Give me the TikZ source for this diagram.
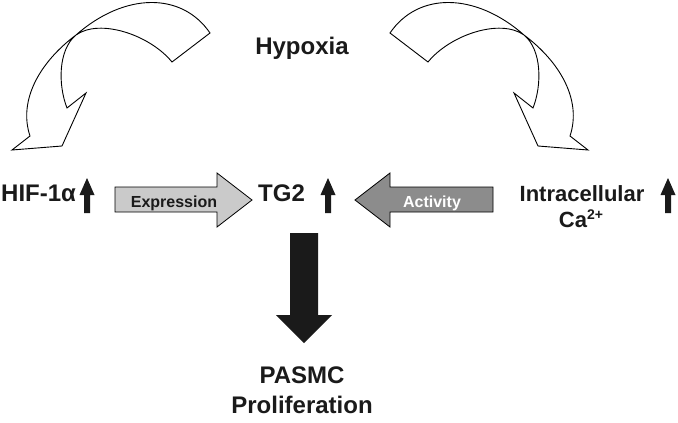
\documentclass[tikz,border=0pt]{standalone}
\usepackage{fontspec}
\setmainfont{Liberation Sans}
\definecolor{txt}{HTML}{1A1A1A}
\definecolor{expfill}{HTML}{CACACA}
\definecolor{actfill}{HTML}{8C8C8C}
\begin{document}
\begin{tikzpicture}[x=1pt,y=-1pt,
  lbl/.style={font=\fontsize{24}{26}\selectfont\bfseries, text=txt, inner sep=0pt},
  lblsmall/.style={font=\fontsize{22}{24}\selectfont\bfseries, text=txt, inner sep=0pt},
  arrlbl/.style={font=\fontsize{16}{18}\selectfont\bfseries, inner sep=0pt},
  curv/.style={draw=black, line width=0.9pt, line join=miter},
  flat/.style={draw=black, line width=0.8pt, line join=miter},
  uparr/.pic={\fill[txt] (0,0) -- (7.5,17) -- (3,17) -- (3,35) -- (-3,35) -- (-3,17) -- (-7.5,17) -- cycle;}
]
\useasboundingbox (0,0) rectangle (678,423);
\fill[white] (0,0) rectangle (678,423);

% text nodes
\node[lbl, anchor=base] (hyp) at (302,54.5) {Hypoxia};
\node[lbl, anchor=base west] (hif) at (1,201) {HIF-1α};
\node[lbl, anchor=base west] (tg) at (258,201) {TG2};
\node[lblsmall, anchor=base] (intra) at (582,201) {Intracellular};
\node[lblsmall, anchor=base] (ca) at (581,227) {Ca\raisebox{7.5pt}{\fontsize{14}{14}\selectfont 2+}};
\node[lbl, anchor=base] (pasmc) at (302,383) {PASMC};
\node[lbl, anchor=base] (prolif) at (302,413) {Proliferation};

% small up arrows
\pic at (87,178) {uparr};
\pic at (328,178) {uparr};
\pic at (668,178) {uparr};

% curved arrows
\draw[curv] (210,33) .. controls (182,-8) and (125,-8) .. (76,35)
  .. controls (40,62) and (18,100) .. (30,136) -- (12,150) -- (62,146) -- (86,93) -- (67,108)
  .. controls (58,85) and (58,50) .. (76,35)
  .. controls (100,18) and (150,35) .. (172,62) -- cycle;
\begin{scope}[shift={(600,0)}, xscale=-1]
\draw[curv] (210,33) .. controls (182,-8) and (125,-8) .. (76,35)
  .. controls (40,62) and (18,100) .. (30,136) -- (12,150) -- (62,146) -- (86,93) -- (67,108)
  .. controls (58,85) and (58,50) .. (76,35)
  .. controls (100,18) and (150,35) .. (172,62) -- cycle;
\end{scope}

% Expression arrow
\filldraw[flat, fill=expfill] (115,187) -- (217,187) -- (217,173) -- (252,200) -- (217,227) -- (217,212) -- (115,212) -- cycle;
\node[arrlbl, text=txt, anchor=base] (expr) at (174,207) {Expression};

% Activity arrow
\filldraw[flat, fill=actfill] (493,187) -- (390,187) -- (390,173) -- (355,200) -- (390,227) -- (390,212) -- (493,212) -- cycle;
\node[arrlbl, text=white, anchor=base] (act) at (432,207) {Activity};

% Down arrow
\fill[txt] (290,233) -- (318,233) -- (318,315) -- (332,315) -- (304,343) -- (276,315) -- (290,315) -- cycle;
\end{tikzpicture}
\end{document}
